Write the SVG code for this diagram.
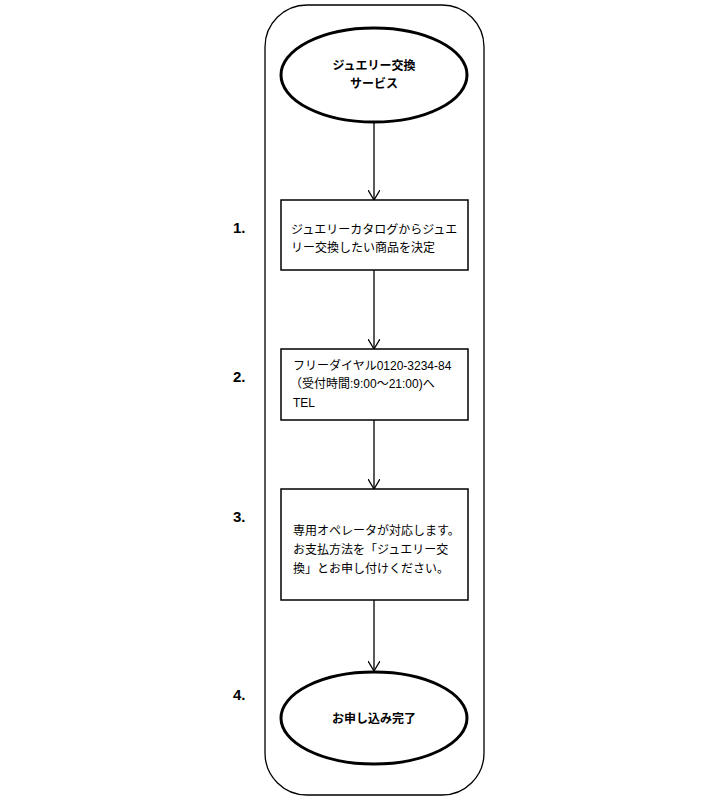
<svg xmlns="http://www.w3.org/2000/svg" width="717" height="803" viewBox="0 0 717 803">
<style>
text{font-family:"Liberation Sans","Noto Sans CJK JP",sans-serif;font-size:12px;fill:#000}
.b{font-weight:bold}
.n{font-size:15px;font-weight:bold}
.s{fill:#fff;stroke:#000;stroke-width:1.5}
.e{fill:#fff;stroke:#000;stroke-width:3}
.c{stroke:#000;stroke-width:1.3;fill:none}
</style>
<defs><marker id="a" markerWidth="12" markerHeight="12" refX="10" refY="6" orient="auto" markerUnits="userSpaceOnUse"><path d="M0,0L10,6L0,12" fill="none" stroke="#000" stroke-width="1.3"/></marker></defs>
<rect id="lane" x="265" y="5" width="219" height="790" rx="42" fill="#fff" stroke="#000" stroke-width="1.3"/>
<g id="connectors">
<line class="c" x1="374" y1="122" x2="374" y2="200" marker-end="url(#a)"/>
<line class="c" x1="374" y1="270" x2="374" y2="349" marker-end="url(#a)"/>
<line class="c" x1="374" y1="420" x2="374" y2="489" marker-end="url(#a)"/>
<line class="c" x1="374" y1="600" x2="374" y2="671" marker-end="url(#a)"/>
</g>
<g id="start"><ellipse class="e" cx="374" cy="75" rx="93" ry="47"/><text class="b" x="374" y="70" text-anchor="middle">ジュエリー交換</text><text class="b" x="374" y="88" text-anchor="middle">サービス</text></g>
<g id="step1"><text class="n" x="233" y="233">1.</text><rect class="s" x="281" y="200" width="187" height="70"/><text x="291" y="234">ジュエリーカタログからジュエ</text><text x="291" y="252">リー交換したい商品を決定</text></g>
<g id="step2"><text class="n" x="233" y="382">2.</text><rect class="s" x="281" y="349" width="187" height="71"/><text x="293" y="370">フリーダイヤル0120-3234-84</text><text x="290" y="388">（受付時間:9:00〜21:00)へ</text><text x="293" y="407">TEL</text></g>
<g id="step3"><text class="n" x="233" y="522">3.</text><rect class="s" x="281" y="489" width="187" height="111"/><text x="293" y="535">専用オペレータが対応します。</text><text x="293" y="554">お支払方法を「ジュエリー交</text><text x="293" y="573">換」とお申し付けください。</text></g>
<g id="end"><text class="n" x="233" y="700">4.</text><ellipse class="e" cx="374" cy="718" rx="93" ry="46"/><text class="b" x="374" y="723" text-anchor="middle">お申し込み完了</text></g>
</svg>
